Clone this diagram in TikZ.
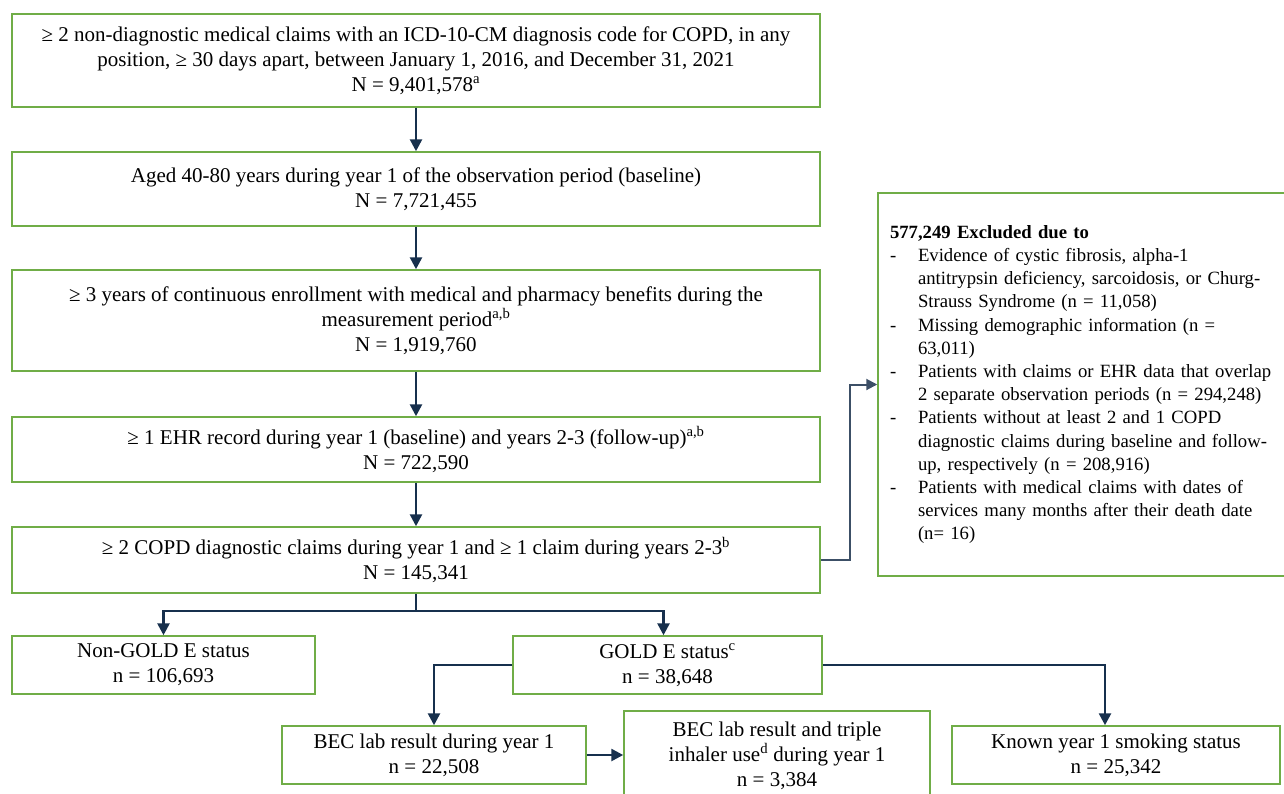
\documentclass[tikz,border=0pt]{standalone}
\usepackage{fontspec}
\setmainfont{Liberation Serif}
\usepackage{xcolor}
\usetikzlibrary{arrows.meta,positioning}

\definecolor{boxgreen}{HTML}{70AD47}
\definecolor{arrownavy}{HTML}{17304D}
\definecolor{slate}{HTML}{3C4F66}

\newcommand{\dashitem}{\makebox[28pt][l]{-}}
\newcommand{\dashcont}{\hspace*{28pt}}

\tikzset{
  stagebox/.style={draw=boxgreen, line width=1.5pt, rectangle, inner sep=0pt,
    minimum width=808pt, align=center, font=\fontsize{21}{25}\selectfont},
  subbox/.style={draw=boxgreen, line width=1.5pt, rectangle, inner sep=0pt,
    minimum height=58pt, align=center, font=\fontsize{21}{25}\selectfont},
  exclbox/.style={draw=boxgreen, line width=1.5pt, rectangle, inner xsep=12pt, inner ysep=0pt,
    minimum width=422pt, minimum height=383pt, text width=398pt, align=left,
    font=\fontsize{18.7}{23.2}\selectfont},
  flowarrow/.style={draw=arrownavy, line width=2.6pt, -{Triangle[length=12pt,width=12pt]}},
  flowline/.style={draw=arrownavy, line width=2.6pt},
  exclarrow/.style={draw=slate, line width=2pt, -{Triangle[length=11pt,width=11pt]}}
}

\begin{document}
\begin{tikzpicture}[x=1pt, y=-1pt]
\useasboundingbox (0,0) rectangle (1284,793);

% main selection steps
\node (claims) [stagebox, minimum height=93pt] at (416,60.5)
  {≥ 2 non-diagnostic medical claims with an ICD-10-CM diagnosis code for COPD, in any\\
   position, ≥ 30 days apart, between January 1, 2016, and December 31, 2021\\
   N = 9,401,578\textsuperscript{a}};
\node (age) [stagebox, minimum height=74pt] at (416,189)
  {Aged 40-80 years during year 1 of the observation period (baseline)\\
   N = 7,721,455};
\node (enroll) [stagebox, minimum height=101pt] at (416,320.5)
  {≥ 3 years of continuous enrollment with medical and pharmacy benefits during the\\
   measurement period\textsuperscript{a,b}\\
   N = 1,919,760};
\node (ehr) [stagebox, minimum height=65pt] at (416,449.5)
  {≥ 1 EHR record during year 1 (baseline) and years 2-3 (follow-up)\textsuperscript{a,b}\\
   N = 722,590};
\node (copd) [stagebox, minimum height=66pt] at (416,560)
  {≥ 2 COPD diagnostic claims during year 1 and ≥ 1 claim during years 2-3\textsuperscript{b}\\
   N = 145,341};

% exclusions
\node (excl) [exclbox] at (1089,384.5)
  {\textbf{577,249 Excluded due to}\\
   \dashitem Evidence of cystic fibrosis, alpha-1\\
   \dashcont antitrypsin deficiency, sarcoidosis, or Churg-\\
   \dashcont Strauss Syndrome (n = 11,058)\\
   \dashitem Missing demographic information (n =\\
   \dashcont 63,011)\\
   \dashitem Patients with claims or EHR data that overlap\\
   \dashcont 2 separate observation periods (n = 294,248)\\
   \dashitem Patients without at least 2 and 1 COPD\\
   \dashcont diagnostic claims during baseline and follow-\\
   \dashcont up, respectively (n = 208,916)\\
   \dashitem Patients with medical claims with dates of\\
   \dashcont services many months after their death date\\
   \dashcont (n= 16)};

% subgroups
\node (nongold) [subbox, minimum width=303pt] at (163.5,665)
  {Non-GOLD E status\\ n = 106,693};
\node (gold) [subbox, minimum width=309pt] at (667.5,665)
  {GOLD E status\textsuperscript{c}\\ n = 38,648};
\node (bec) [subbox, minimum width=304pt] at (434,755)
  {BEC lab result during year 1\\ n = 22,508};
\node (triple) [subbox, minimum width=306pt, minimum height=89pt] at (777,755.5)
  {BEC lab result and triple\\ inhaler use\textsuperscript{d} during year 1\\ n = 3,384};
\node (smoke) [subbox, minimum width=328pt] at (1116,755)
  {Known year 1 smoking status\\ n = 25,342};

\coordinate (split) at (416,611);

\draw[flowarrow] (claims) -- (age);
\draw[flowarrow] (age) -- (enroll);
\draw[flowarrow] (enroll) -- (ehr);
\draw[flowarrow] (ehr) -- (copd);
\draw[exclarrow] (copd.east) -- ++(29,0) |- (excl.west);
\draw[flowline] (copd.south) -- (split);
\draw[flowarrow] (split) -| (nongold.north);
\draw[flowarrow] (split) -| ([xshift=-4pt]gold.north);
\draw[flowarrow] (gold.west) -| (bec.north);
\draw[flowarrow] (gold.east) -| ([xshift=-11pt]smoke.north);
\draw[flowarrow] (bec.east) -- (bec.east -| triple.west);
\end{tikzpicture}
\end{document}
